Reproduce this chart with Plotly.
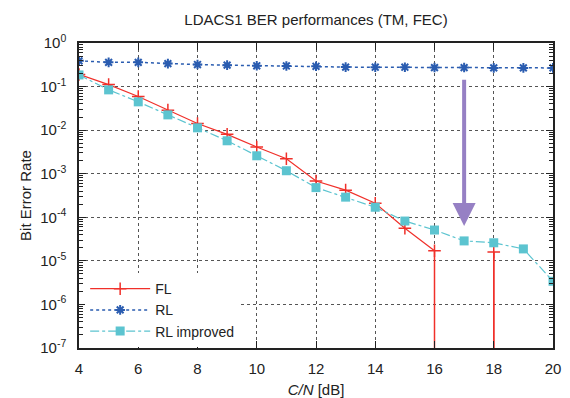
import plotly.graph_objects as go

# ---- data ----
cn_db = [4, 5, 6, 7, 8, 9, 10, 11, 12, 13, 14, 15, 16, 17, 18, 19, 20]
ber_fl = [0.19, 0.111, 0.059, 0.0288, 0.0142, 0.0080, 0.0041, 0.0022, 6.8e-4, 4.2e-4,
          2.1e-4, 5.6e-5, 1.7e-5, 0, 1.6e-5, 0, 0]
ber_rl = [0.39, 0.36, 0.36, 0.337, 0.32, 0.31, 0.30, 0.297, 0.292, 0.28, 0.278, 0.278,
          0.273, 0.273, 0.268, 0.268, 0.268]
ber_rl_improved = [0.185, 0.084, 0.0446, 0.0224, 0.0113, 0.0057, 0.00258, 0.00117, 4.8e-4,
                   2.9e-4, 1.7e-4, 8.2e-5, 5.1e-5, 2.87e-5, 2.6e-5, 1.88e-5, 3.4e-6]
y_tick_exps = [0, -1, -2, -3, -4, -5, -6, -7]
x_ticks = [4, 6, 8, 10, 12, 14, 16, 18, 20]

Y_MIN_EXP = -7
FONT = "Liberation Sans, Arial, sans-serif"
RED = "#f0302a"
BLUE = "#2a5cb0"
CYAN = "#5cc4d0"
PURPLE = "#9680c4"

fig = go.Figure()

# FL: zero values fall below the log axis -> drawn as vertical drops to the axis floor
fl_x = [x if v > 0 else None for x, v in zip(cn_db, ber_fl)]
fl_y = [v if v > 0 else None for v in ber_fl]
drop_x, drop_y = [], []
floor = 10 ** Y_MIN_EXP
for i, v in enumerate(ber_fl):
    if v == 0:
        if i > 0 and ber_fl[i - 1] > 0:
            drop_x += [cn_db[i - 1], cn_db[i - 1], None]
            drop_y += [ber_fl[i - 1], floor, None]
        if i + 1 < len(ber_fl) and ber_fl[i + 1] > 0:
            drop_x += [cn_db[i + 1], cn_db[i + 1], None]
            drop_y += [floor, ber_fl[i + 1], None]

fig.add_trace(go.Scatter(x=drop_x, y=drop_y, mode="lines", showlegend=False,
                         line=dict(color=RED, width=1.5), hoverinfo="skip"))
fig.add_trace(go.Scatter(
    x=fl_x, y=fl_y, mode="lines+markers", name="FL",
    line=dict(color=RED, width=1.2),
    marker=dict(symbol="cross-thin-open", size=9, line=dict(color=RED, width=1.5), color=RED)))
fig.add_trace(go.Scatter(
    x=cn_db, y=ber_rl, mode="lines+markers", name="RL",
    line=dict(color=BLUE, width=1.5, dash="dot"),
    marker=dict(symbol="asterisk-open", size=8, line=dict(color=BLUE, width=2), color=BLUE)))
fig.add_trace(go.Scatter(
    x=cn_db, y=ber_rl_improved, mode="lines+markers", name="RL improved",
    line=dict(color=CYAN, width=1.2, dash="dashdot"),
    marker=dict(symbol="square", size=9, color=CYAN)))

fig.add_annotation(x=17, y=-4.2, ax=17, ay=-0.81, xref="x", yref="y", axref="x", ayref="y",
                   text="", showarrow=True, arrowhead=2, arrowsize=1.15, arrowwidth=4,
                   arrowcolor=PURPLE, standoff=0)

axis_common = dict(
    showline=True, linecolor="#222", linewidth=1.5, mirror="allticks",
    ticks="inside", tickcolor="#222", ticklen=7, tickwidth=1,
    showgrid=True, gridcolor="#555", griddash="dot", gridwidth=1,
    zeroline=False, tickfont=dict(family=FONT, size=15, color="#222"),
)

fig.update_layout(
    width=570, height=398,
    margin=dict(l=79, r=17, t=43, b=50, autoexpand=False),
    paper_bgcolor="white", plot_bgcolor="white",
    font=dict(family=FONT, color="#222"),
    title=dict(text="LDACS1 BER performances (TM, FEC)", x=0.5, xref="paper",
               y=1 - 20 / 398, yref="container", yanchor="middle",
               font=dict(family=FONT, size=15, color="#222")),
    xaxis=dict(range=[4, 20], tickvals=x_ticks, ticktext=[str(t) for t in x_ticks],
               ticklabelstandoff=6,
               title=dict(text="<i>C/N</i> [dB]", font=dict(family=FONT, size=15), standoff=10),
               **axis_common),
    yaxis=dict(type="log", range=[Y_MIN_EXP, 0],
               tickvals=[10 ** e for e in y_tick_exps],
               ticktext=[f"10<sup>{e}</sup>" for e in y_tick_exps],
               ticklabelstandoff=8,
               minor=dict(ticks="inside", ticklen=4, tickcolor="#222", dtick="D1", showgrid=False),
               title=dict(text="Bit Error Rate", font=dict(family=FONT, size=15), standoff=5),
               **axis_common),
    legend=dict(x=0.013, y=0.003, xanchor="left", yanchor="bottom",
                bgcolor="white", borderwidth=0, itemwidth=60,
                font=dict(family=FONT, size=14, color="#222"), tracegroupgap=0),
    showlegend=True,
)

fig.write_html("out.html", config={"displayModeBar": False},
               post_script="document.body.style.margin='0';document.body.style.padding='0';")
